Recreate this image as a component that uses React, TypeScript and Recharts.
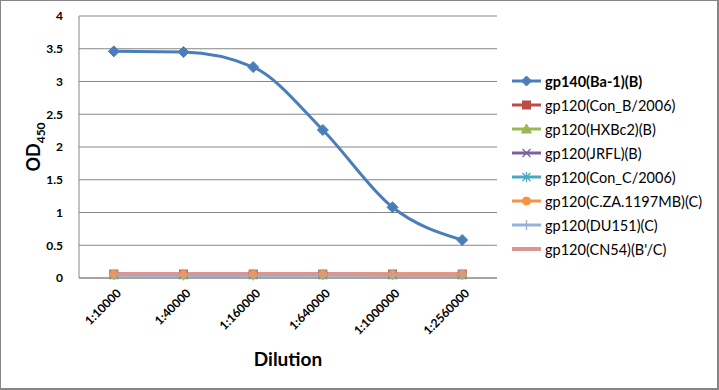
import React from 'react';
import { LineChart, Line, XAxis, YAxis, CartesianGrid } from 'recharts';

const categories = ['1:10000', '1:40000', '1:160000', '1:640000', '1:1000000', '1:2560000'];
const seriesNames = [
  'gp140(Ba-1)(B)',
  'gp120(Con_B/2006)',
  'gp120(HXBc2)(B)',
  'gp120(JRFL)(B)',
  'gp120(Con_C/2006)',
  'gp120(C.ZA.1197MB)(C)',
  'gp120(DU151)(C)',
  "gp120(CN54)(B'/C)",
];
const gp140Ba1 = [3.46, 3.45, 3.22, 2.26, 1.08, 0.58];
const gp120ConB = [0.06, 0.06, 0.06, 0.06, 0.06, 0.06];
const gp120HXBc2 = [0.05, 0.05, 0.05, 0.05, 0.05, 0.05];
const gp120JRFL = [0.05, 0.05, 0.05, 0.05, 0.05, 0.05];
const gp120ConC = [0.05, 0.05, 0.05, 0.05, 0.05, 0.05];
const gp120CZA = [0.06, 0.06, 0.06, 0.06, 0.06, 0.06];
const gp120DU151 = [0.05, 0.04, 0.04, 0.05, 0.05, 0.05];
const gp120CN54 = [0.06, 0.06, 0.06, 0.06, 0.05, 0.05];
const yTicks = [0, 0.5, 1, 1.5, 2, 2.5, 3, 3.5, 4];

const seriesValues = [gp140Ba1, gp120ConB, gp120HXBc2, gp120JRFL, gp120ConC, gp120CZA, gp120DU151, gp120CN54];
const colors = ['#4A7EBB', '#BE4B48', '#98B954', '#7D60A0', '#46AAC5', '#F69240', '#95B3D7', '#D99694'];
const markers = ['diamond', 'square', 'triangle', 'x', 'star', 'circle', 'plus', 'dash'];
const widths = [3, 3, 3, 3, 3, 3, 3, 4];

const data = categories.map((c, i) => {
  const row: any = { cat: c };
  seriesValues.forEach((s, k) => {
    row['s' + k] = s[i];
  });
  return row;
});

const FONT = 'Lato, "Open Sans", sans-serif';

function Marker({ type, cx, cy, color, size }: any) {
  const r = size / 2;
  switch (type) {
    case 'diamond':
      return <path d={`M${cx},${cy - r - 1}L${cx + r + 1},${cy}L${cx},${cy + r + 1}L${cx - r - 1},${cy}Z`} fill={color} stroke={color} />;
    case 'square':
      return <rect x={cx - r} y={cy - r} width={size} height={size} fill={color} stroke={color} />;
    case 'triangle':
      return <path d={`M${cx},${cy - r - 1}L${cx + r + 1},${cy + r}L${cx - r - 1},${cy + r}Z`} fill={color} stroke={color} />;
    case 'x':
      return <path d={`M${cx - r},${cy - r}L${cx + r},${cy + r}M${cx - r},${cy + r}L${cx + r},${cy - r}`} stroke={color} strokeWidth={1.3} fill="none" />;
    case 'star':
      return <path d={`M${cx - r},${cy - r}L${cx + r},${cy + r}M${cx - r},${cy + r}L${cx + r},${cy - r}M${cx},${cy - r - 1}L${cx},${cy + r + 1}`} stroke={color} strokeWidth={1.3} fill="none" />;
    case 'circle':
      return <circle cx={cx} cy={cy} r={r} fill={color} stroke={color} />;
    case 'plus':
      return <path d={`M${cx - r - 1},${cy}L${cx + r + 1},${cy}M${cx},${cy - r - 1}L${cx},${cy + r + 1}`} stroke={color} strokeWidth={1.3} fill="none" />;
    case 'dash':
      return <path d={`M${cx - r},${cy}L${cx + r},${cy}`} stroke={color} strokeWidth={2} fill="none" />;
    default:
      return null;
  }
}

const makeDot = (k: number) => (props: any) => {
  const { cx, cy, index } = props;
  if (cx == null || cy == null) return <g key={index} />;
  return (
    <g key={`d${k}-${index}`}>
      <Marker type={markers[k]} cx={cx} cy={cy} color={colors[k]} size={k === 0 ? 9 : 8} />
    </g>
  );
};

const XTick = (props: any) => {
  const { x, y, payload } = props;
  return (
    <g transform={`translate(${x + 8},${y + 8})`}>
      <text textAnchor="end" transform="rotate(-45)" fontFamily={FONT} fontWeight="bold" fontSize={12} fill="#000">
        {payload.value}
      </text>
    </g>
  );
};

const YTitle = () => {
  return (
    <text transform="translate(40,147) rotate(-90)" textAnchor="middle" fontFamily={FONT} fontWeight="bold" fill="#000">
      <tspan fontSize={18}>OD</tspan>
      <tspan fontSize={12} dy={5}>450</tspan>
    </text>
  );
};

const XTitle = () => {
  return (
    <text x={288} y={366} textAnchor="middle" fontFamily={FONT} fontWeight="bold" fontSize={19} fill="#000">
      Dilution
    </text>
  );
};

export default function App() {
  return (
    <div style={{ position: 'absolute', left: 0, top: 0, width: 719, height: 390, background: '#fff' }}>
      <div style={{ position: 'absolute', left: 0, top: 0, width: 716, height: 387, border: '1px solid #868686', borderRightWidth: 2, borderBottomWidth: 2, boxSizing: 'content-box' }} />
      <LineChart width={719} height={390} data={data} margin={{ top: 16, right: 222, bottom: 0, left: 0 }}>
        <CartesianGrid vertical={false} stroke="#868686" strokeWidth={1} />
        <XAxis
          dataKey="cat"
          scale="band"
          tick={<XTick />}
          tickLine={false}
          axisLine={{ stroke: '#868686' }}
          interval={0}
          height={112}
          label={<XTitle />}
        />
        <YAxis
          domain={[0, 4]}
          ticks={yTicks}
          width={79}
          tickLine={false}
          axisLine={{ stroke: '#868686' }}
          tick={{ fontFamily: FONT, fontWeight: 'bold', fontSize: 12, fill: '#000' }}
          tickMargin={10}
          label={<YTitle />}
        />
        {seriesValues.map((_, k) => (
          <Line
            key={k}
            dataKey={'s' + k}
            type="monotone"
            stroke={colors[k]}
            strokeWidth={widths[k]}
            dot={makeDot(k)}
            isAnimationActive={false}
          />
        ))}
      </LineChart>
      <div style={{ position: 'absolute', left: 511, top: 69, fontFamily: FONT, fontSize: 14.5, color: '#000' }}>
        {seriesNames.map((n, k) => (
          <div key={k} style={{ display: 'flex', alignItems: 'center', height: 24.05 }}>
            <svg width={32} height={14} style={{ marginRight: 2 }}>
              <line x1={1} x2={30} y1={7} y2={7} stroke={colors[k]} strokeWidth={widths[k]} />
              <Marker type={markers[k]} cx={15.5} cy={7} color={colors[k]} size={8} />
            </svg>
            <span style={{ fontWeight: k === 0 ? 'bold' : 'normal', whiteSpace: 'nowrap' }}>{n}</span>
          </div>
        ))}
      </div>
    </div>
  );
}
